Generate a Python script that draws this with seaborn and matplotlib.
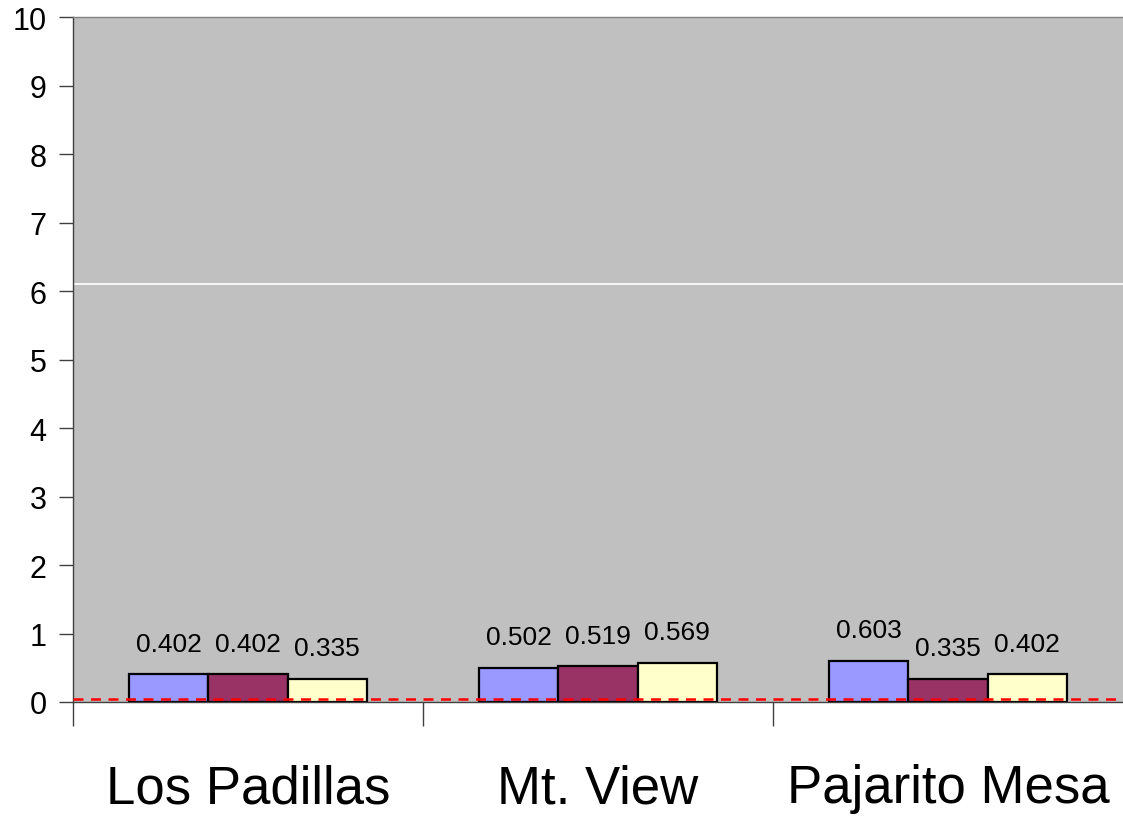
import matplotlib
matplotlib.use("Agg")
import matplotlib.pyplot as plt
import seaborn as sns
import pandas as pd

# Data
sites = ["Los Padillas", "Mt. View", "Pajarito Mesa"]
series = ["Series 1", "Series 2", "Series 3"]
series1 = [0.402, 0.502, 0.603]
series2 = [0.402, 0.519, 0.335]
series3 = [0.335, 0.569, 0.402]
colors = ["#9999FF", "#993366", "#FFFFCC"]
ref_level = 0.05
white_line = 6.1

sns.set_theme(style="white")
plt.rcParams["font.family"] = ["Liberation Sans", "DejaVu Sans"]
plt.rcParams["text.color"] = "black"
plt.rcParams["xtick.color"] = "black"
plt.rcParams["ytick.color"] = "black"

df = pd.DataFrame({
    "site": sites * 3,
    "series": [s for s in series for _ in sites],
    "value": series1 + series2 + series3,
})

fig = plt.figure(figsize=(11.23, 8.2), dpi=100)
ax = fig.add_axes([0.065, 0.1427, 0.935, 0.835])
ax.set_facecolor("#C0C0C0")

sns.barplot(data=df, x="site", y="value", hue="series", order=sites,
            hue_order=series, palette=colors, width=0.68, saturation=1,
            edgecolor="black", linewidth=1.6, legend=False, ax=ax)

# value labels above bars
for container in ax.containers:
    for bar in container:
        h = bar.get_height()
        ax.annotate(f"{h:.3f}", (bar.get_x() + bar.get_width() / 2, h),
                    xytext=(0, 22), textcoords="offset points",
                    ha="center", va="center", fontsize=19, color="black")

ax.axhline(white_line, color="white", linewidth=1.2, zorder=0.5)
ax.axhline(ref_level, color="red", linestyle=(0, (4, 3)), linewidth=1.8, zorder=3)

ax.set_ylim(0, 10)
ax.set_xlim(-0.5, 2.5)
ax.set_yticks(range(0, 11))
ax.set_xlabel("")
ax.set_ylabel("")

ax.tick_params(axis="y", which="major", direction="out", length=10, width=1,
               color="#404040", labelcolor="black", labelsize=22, pad=9, left=True)
ax.tick_params(axis="x", which="major", length=0, labelsize=38,
               labelcolor="black", pad=44)
ax.set_xticks([-0.5, 0.5, 1.5], minor=True)
ax.tick_params(axis="x", which="minor", direction="out", length=17, width=1,
               color="#404040", bottom=True)

for side in ["left", "top", "bottom"]:
    ax.spines[side].set_visible(True)
    ax.spines[side].set_color("#404040")
    ax.spines[side].set_linewidth(1)
ax.spines["top"].set_color("#808080")
ax.spines["right"].set_visible(False)

fig.savefig("out.png", dpi=100)
